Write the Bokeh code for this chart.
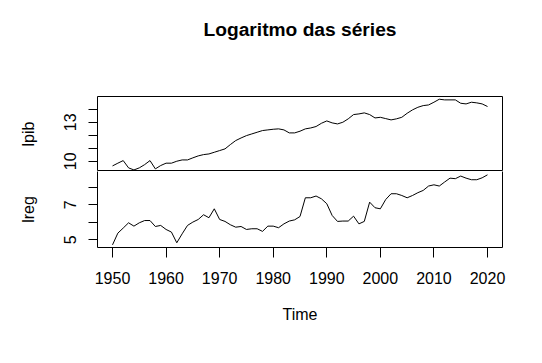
from bokeh.plotting import figure
from bokeh.layouts import column
from bokeh.models import Range1d, FixedTicker, Label, LinearAxis
from bokeh.embed import file_html
from bokeh.resources import INLINE

years = list(range(1950, 2021))

lpib = [9.64, 9.85, 10.05, 9.49, 9.33, 9.49, 9.74, 10.05, 9.41, 9.67,
        9.85, 9.85, 10.00, 10.10, 10.10, 10.26, 10.41, 10.51, 10.56, 10.69,
        10.82, 10.95, 11.28, 11.59, 11.79, 11.97, 12.10, 12.23, 12.36, 12.41,
        12.46, 12.49, 12.41, 12.18, 12.18, 12.31, 12.49, 12.56, 12.67, 12.92,
        13.10, 12.95, 12.87, 13.00, 13.26, 13.59, 13.64, 13.72, 13.59, 13.33,
        13.38, 13.28, 13.18, 13.26, 13.38, 13.69, 13.95, 14.15, 14.28, 14.33,
        14.54, 14.77, 14.72, 14.72, 14.72, 14.46, 14.41, 14.54, 14.49, 14.41,
        14.21]

lreg = [4.71, 5.38, 5.67, 5.97, 5.78, 5.97, 6.10, 6.10, 5.76, 5.82,
        5.59, 5.44, 4.83, 5.34, 5.82, 6.01, 6.16, 6.43, 6.26, 6.77,
        6.16, 6.05, 5.86, 5.72, 5.76, 5.59, 5.63, 5.63, 5.48, 5.78,
        5.78, 5.69, 5.91, 6.07, 6.14, 6.33, 7.40, 7.40, 7.50, 7.34,
        7.06, 6.39, 6.05, 6.07, 6.07, 6.35, 5.91, 6.05, 7.15, 6.83,
        6.77, 7.30, 7.63, 7.63, 7.53, 7.40, 7.53, 7.69, 7.82, 8.07,
        8.14, 8.07, 8.30, 8.52, 8.49, 8.64, 8.52, 8.43, 8.43, 8.54,
        8.71]

x_ticks = [1950, 1960, 1970, 1980, 1990, 2000, 2010, 2020]
lpib_ticks = [10, 11, 12, 13, 14]
lpib_labels = {10: "10", 11: "", 12: "", 13: "13", 14: ""}
lreg_ticks = [5, 6, 7, 8]
lreg_labels = {5: "5", 6: "", 7: "7", 8: ""}
title_text = "Logaritmo das séries"

FONT = "Liberation Sans"
x_range = Range1d(1947.2, 2022.8)


def style(p):
    p.background_fill_color = "white"
    p.border_fill_color = "white"
    p.outline_line_color = "black"
    p.outline_line_width = 1
    p.xgrid.visible = False
    p.ygrid.visible = False
    for ax in p.axis:
        ax.axis_line_color = None
        ax.major_tick_line_color = "black"
        ax.minor_tick_line_color = None
        ax.major_tick_in = 0
        ax.major_tick_out = 9
        ax.major_label_text_font = FONT
        ax.major_label_text_font_size = "16px"
        ax.major_label_text_color = "black"
        ax.axis_label_text_font = FONT
        ax.axis_label_text_font_size = "16px"
        ax.axis_label_text_font_style = "normal"
        ax.axis_label_text_color = "black"


# title strip, aligned with the plot frames
ttl = figure(width=534, height=60, x_range=x_range, y_range=Range1d(0, 60),
             output_backend="svg", toolbar_location=None,
             x_axis_location=None, y_axis_location=None,
             min_border_left=97, min_border_right=32,
             min_border_top=0, min_border_bottom=0)
ttl.outline_line_color = None
ttl.xgrid.visible = False
ttl.ygrid.visible = False
ttl.border_fill_color = "white"
ttl.add_layout(Label(x=(x_range.start + x_range.end) / 2, y=31,
                     text=title_text, text_align="center", text_baseline="middle",
                     text_font=FONT, text_font_size="19.2px", text_font_style="bold",
                     text_color="black"))

top = figure(width=534, height=111, x_range=x_range,
             y_range=Range1d(9.21, 14.98),
             output_backend="svg", toolbar_location=None,
             min_border_left=97, min_border_right=32,
             min_border_top=36, min_border_bottom=0)
top.line(years, lpib, line_color="black", line_width=1)
style(top)
top.xaxis.visible = False
top.yaxis.ticker = FixedTicker(ticks=lpib_ticks)
top.yaxis.major_label_overrides = lpib_labels
top.yaxis.major_label_orientation = "vertical"
top.yaxis.major_label_standoff = 12
top.yaxis.axis_label = "lpib"
top.yaxis.axis_label_standoff = 25

bot = figure(width=534, height=184, x_range=x_range,
             y_range=Range1d(4.56, 8.90),
             output_backend="svg", toolbar_location=None,
             min_border_left=97, min_border_right=32,
             min_border_top=0, min_border_bottom=108)
bot.line(years, lreg, line_color="black", line_width=1)
bot.add_layout(LinearAxis(ticker=FixedTicker(ticks=[])), "right")
style(bot)
bot.outline_line_color = None
for ax in bot.axis:
    ax.axis_line_color = "black"
    ax.axis_line_width = 1
bot.yaxis[0].ticker = FixedTicker(ticks=lreg_ticks)
bot.yaxis[0].major_label_overrides = lreg_labels
bot.yaxis[0].major_label_orientation = "vertical"
bot.yaxis[0].major_label_standoff = 12
bot.yaxis[0].axis_label = "lreg"
bot.yaxis[0].axis_label_standoff = 25
bot.yaxis[1].major_tick_out = 0
bot.yaxis[1].major_label_text_font_size = "0px"
bot.xaxis.ticker = FixedTicker(ticks=x_ticks)
bot.xaxis.major_tick_out = 10
bot.xaxis.major_label_standoff = 14
bot.xaxis.axis_label = "Time"
bot.xaxis.axis_label_standoff = 19

layout = column(ttl, top, bot, spacing=0)
open("out.html", "w").write(file_html(layout, INLINE))
